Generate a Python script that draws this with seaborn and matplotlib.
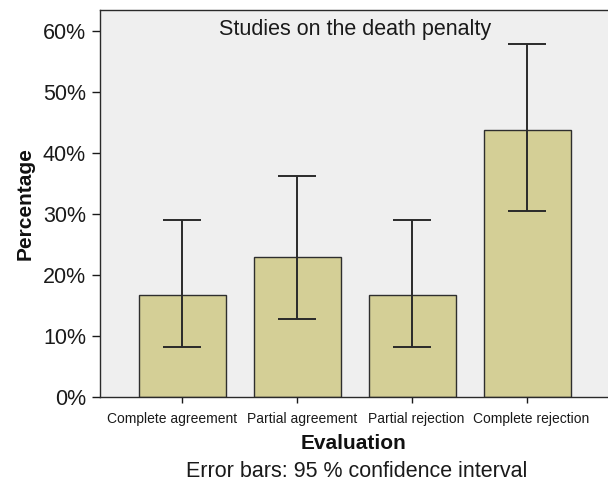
import matplotlib
matplotlib.use("Agg")
import matplotlib.pyplot as plt
import matplotlib.transforms as mtransforms
import seaborn as sns
import pandas as pd
from matplotlib.ticker import FuncFormatter

categories = ["Complete agreement", "Partial agreement", "Partial rejection", "Complete rejection"]
percent = [16.7, 23.0, 16.7, 43.8]
ci_low = [8.2, 12.8, 8.2, 30.5]
ci_high = [29.0, 36.2, 29.0, 57.9]
yticks = [0, 10, 20, 30, 40, 50, 60]

sns.set_style("white")
plt.rcParams["font.family"] = ["Liberation Sans", "DejaVu Sans"]

fig = plt.figure(figsize=(6.08, 4.82), dpi=100)
ax = fig.add_axes([100/608, 85/482, 510/608, 387/482])
ax.set_facecolor("#efefef")

df = pd.DataFrame({"Evaluation": categories, "Percentage": percent})
sns.barplot(data=df, x="Evaluation", y="Percentage", ax=ax, color="#d4cf96",
            saturation=1, width=0.755, edgecolor="#2e2e2e", linewidth=1.0, errorbar=None)

pos = list(range(len(categories)))
lower = [p - l for p, l in zip(percent, ci_low)]
upper = [h - p for p, h in zip(percent, ci_high)]
ax.errorbar(pos, percent, yerr=[lower, upper], fmt="none", ecolor="#2a2a2a",
            elinewidth=1.4, capsize=14, capthick=1.4)

ax.set_xlim(-0.716, 3.72)
ax.set_ylim(0, 63.4)
ax.set_yticks(yticks)
ax.yaxis.set_major_formatter(FuncFormatter(lambda v, p: f"{int(v)}%"))
ax.tick_params(axis="y", labelsize=15.5, length=6, width=1, direction="out", left=True, pad=4, colors="#1a1a1a")
ax.tick_params(axis="x", labelsize=10, length=4, width=1, direction="out", bottom=True, pad=7, colors="#1a1a1a")

# slight horizontal nudges of the category labels, as in the reference
shifts_px = [-10, 5, 4, 4]
for lbl, dx in zip(ax.get_xticklabels(), shifts_px):
    lbl.set_transform(lbl.get_transform() + mtransforms.ScaledTranslation(dx / 100, 0, fig.dpi_scale_trans))

for s in ["left", "bottom", "top"]:
    ax.spines[s].set_visible(True)
    ax.spines[s].set_color("#2a2a2a")
    ax.spines[s].set_linewidth(1.0)
ax.spines["right"].set_visible(False)

ax.set_xlabel("")
ax.set_ylabel("Percentage", fontsize=15, fontweight="bold", labelpad=6, color="#111111")
fig.text(354/608, 1 - 449/482, "Evaluation", fontsize=15, fontweight="bold",
         ha="center", va="baseline", color="#111111")
ax.text(0.5, 0.976, "Studies on the death penalty", transform=ax.transAxes,
        fontsize=15.5, ha="center", va="top", color="#1a1a1a")
fig.text(357/608, 1 - 477/482, "Error bars: 95 % confidence interval", fontsize=15.5,
         ha="center", va="baseline", color="#1a1a1a")

fig.savefig("out.png", dpi=100)
